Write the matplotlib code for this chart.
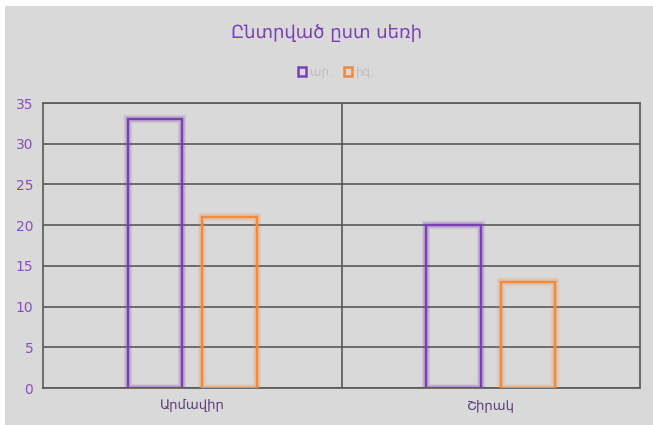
import matplotlib.pyplot as plt
import matplotlib.patheffects as pe
import numpy as np
from matplotlib.patches import Rectangle, Patch

categories = ["Արմավիր", "Շիրակ"]
series_names = ["ար.", "իգ."]
male = [33, 20]
female = [21, 13]
yticks = [0, 5, 10, 15, 20, 25, 30, 35]

purple = "#7b3fb5"
orange = "#f08a3c"
bg = "#d9d9d9"
grid = "#595959"

plt.rcParams['font.family'] = ['DejaVu Sans']

fig = plt.figure(figsize=(6.53, 4.25), dpi=100, facecolor="white")
fig.patches.append(Rectangle((5 / 653, 0), 1, 1 - 6 / 425, transform=fig.transFigure,
                             facecolor=bg, edgecolor="none", zorder=-10))

ax = fig.add_axes([43 / 653, 37 / 425, 597 / 653, 285 / 425])
ax.set_facecolor(bg)

x = np.arange(len(categories))
off = 0.125
w = 0.183
glow_p = [pe.Stroke(linewidth=6, foreground=purple, alpha=0.12),
          pe.Stroke(linewidth=4, foreground=purple, alpha=0.2), pe.Normal()]
glow_o = [pe.Stroke(linewidth=6, foreground=orange, alpha=0.12),
          pe.Stroke(linewidth=4, foreground=orange, alpha=0.2), pe.Normal()]
b1 = ax.bar(x - off, male, w, facecolor="none", edgecolor=purple, linewidth=1.7, zorder=3)
b2 = ax.bar(x + off, female, w, facecolor="none", edgecolor=orange, linewidth=1.7, zorder=3)
for r in b1:
    r.set_path_effects(glow_p)
for r in b2:
    r.set_path_effects(glow_o)

ax.set_xlim(-0.5, 1.5)
ax.set_ylim(0, 35)
ax.set_yticks(yticks)
ax.yaxis.grid(True, color=grid, linewidth=1.2)
ax.axvline(0.5, color=grid, linewidth=1.2)
ax.set_axisbelow(True)
for s in ax.spines.values():
    s.set_color(grid)
    s.set_linewidth(1.2)

ax.set_xticks(x)
ax.set_xticklabels(categories, color="#5b3d7a", fontsize=9.5)
ax.tick_params(axis="x", length=0, pad=8)
ax.tick_params(axis="y", length=0, pad=7, labelcolor="#8a4cc0", labelsize=10)

fig.text(0.5, 1 - 33 / 425, "Ընտրված ըստ սեռի", ha="center", va="center",
         color="#7b3fb5", fontsize=13)

handles = [Patch(facecolor="none", edgecolor=purple, linewidth=1.8),
           Patch(facecolor="none", edgecolor=orange, linewidth=1.8)]
leg = fig.legend(handles, series_names, loc="center", bbox_to_anchor=(0.515, 1 - 72 / 425),
                 ncol=2, frameon=False, fontsize=8.5, handlelength=0.7, handleheight=0.7,
                 handletextpad=0.3, columnspacing=1.0)
for t in leg.get_texts():
    t.set_color("#bdbdbd")

fig.savefig("out.png", dpi=100, facecolor=fig.get_facecolor())
